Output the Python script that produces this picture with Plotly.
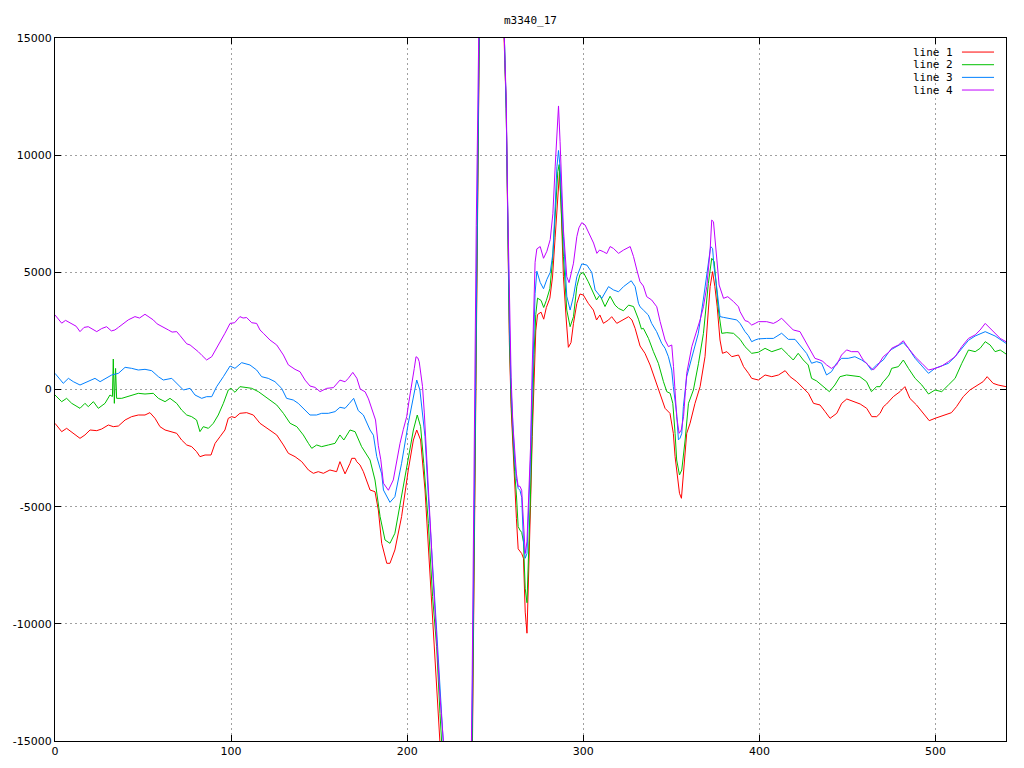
import plotly.graph_objects as go

TITLE = "m3340_17"
SERIES_NAMES = ["line 1", "line 2", "line 3", "line 4"]
SERIES_COLORS = ["#ff0000", "#00c000", "#0080ff", "#c000ff"]

X_RANGE = [0, 540]
Y_RANGE = [-15000, 15000]
X_TICKS = [0, 100, 200, 300, 400, 500]
Y_TICKS = [-15000, -10000, -5000, 0, 5000, 10000, 15000]
Y_TICK_TEXT = ["-15000", "-10000", "-5000", "0", "5000", "10000", "15000"]

# (x, value) readings for each line
LINE1 = [(0,-1444),(3.8,-1799),(6.6,-1657),(10.4,-1870),(14.2,-2084),(17,-1941),(19.9,-1728),(23.7,-1757),
 (26.5,-1686),(30.3,-1515),(33.1,-1586),(36,-1558),(39.8,-1301),(43.5,-1159),(47.3,-1088),(51.1,-1088),
 (53.9,-988),(56.8,-1230),(59.6,-1586),(62.5,-1728),(66.3,-1799),(69.1,-1870),(71.9,-2155),(74.8,-2368),
 (77.6,-2439),(80.4,-2653),(82.3,-2866),(85.2,-2795),(88.6,-2795),(90.9,-2297),(93.7,-2013),(96.5,-1728),
 (98.4,-1230),(100.3,-1159),(102.2,-1200),(105,-1017),(108.8,-988),(112.6,-1088),(116.4,-1443),(120.2,-1657),
 (123,-1799),(125.9,-1941),(129.7,-2368),(132.5,-2723),(136.3,-2866),(140.1,-3079),(143.9,-3435),(146.7,-3577),
 (149.5,-3506),(152.4,-3577),(156.1,-3435),(159.9,-3506),(161.8,-3079),(164.7,-3600),(167.5,-3150),(168.5,-2937),
 (170.4,-2937),(171.3,-3079),(173.2,-3221),(175.1,-3506),(178.9,-4290),(181.7,-4361),(183.6,-5142),(185.5,-6564),
 (188.4,-7417),(190.2,-7417),(193,-6849),(196.8,-5426),(200.6,-3435),(203.5,-2155),(205.4,-1728),(207.6,-2155),
 (210.1,-4290),(212,-6706),(213.9,-9266),(216.7,-12396),(218.6,-14957),(220,-17000),(228,-27000),(234,-23000),
 (236,-20000),(237,-15500),(238,-8000),(239,1000),(240,9000),(241,15500),(248,26000),(255,15000),(256.2,12000),
 (257,7000),(258,2000),(259,-800),(260,-2500),(261,-4000),(262,-5500),(263,-6800),(264,-6900),(265,-7000),
 (266,-7200),(267,-9500),(268,-10400),(269,-8000),(270,-5000),(271,-2000),(272,500),(273,2500),(274,3200),
 (276,3300),(277.5,3000),(279,3500),(281,3900),(282.5,4800),(284,6500),(285.5,8500),(286.5,9300),(287.3,8000),
 (288.7,4813),(290.3,2966),(291.5,1800),(293,2000),(294.4,2823),(296.3,3674),(298.1,4075),(300,4032),
 (302.8,3678),(305.7,3391),(307.5,2966),(309.4,3180),(311.4,2823),(314.3,2966),(316.1,3107),(319,2823),
 (322.8,2966),(325.7,3107),(327.6,2966),(329.4,2608),(332.2,1857),(335,1544),(337.9,1046),(340.7,405),
 (343.5,-163),(346.4,-803),(349.2,-1017),(351.1,-1870),(352.1,-2866),(353.4,-3719),(354.6,-4430),(355.7,-4643),
 (356.8,-3719),(358.7,-1870),(360.6,-1443),(363.4,-590),(366.3,121),(369.1,1401),(371,3391),(372,4388),
 (373.4,5029),(374.7,4388),(376,3533),(377.6,2112),(379,1544),(381.5,1615),(384.3,1401),(388.1,1472),
 (389,1330),(391,975),(393.8,690),(395.6,476),(399.4,405),(403.2,619),(407,547),(410.8,619),(414.6,803),
 (417.4,547),(421.2,334),(425,50),(427.8,-163),(430.7,-590),(434.4,-661),(437.3,-945),(440.1,-1230),
 (443.9,-1017),(446.7,-590),(449.6,-405),(453.4,-519),(457.2,-619),(460.9,-803),(463.8,-1159),(466.6,-1159),
 (468.5,-1017),(470.4,-732),(472.2,-619),(476,-306),(479.8,-92),(482.6,121),(485.4,-377),(489.2,-661),
 (493,-1017),(496.4,-1330),(499.7,-1230),(504.3,-1117),(509,-990),(511.9,-732),(515.7,-306),(519.5,-21),
 (524.2,192),(527,334),(529.3,547),(532.7,263),(535.5,192),(540,121)]

LINE2 = [(0,-235),(3.8,-519),(6.6,-377),(9.5,-590),(14.2,-803),(17,-590),(18.9,-732),(21.8,-519),(24.6,-803),
 (28.4,-590),(31.2,-235),(32.6,-300),(33.1,1300),(33.7,-590),(34.4,900),(35,-377),(37.9,-377),(40.7,-306),
 (43.5,-235),(47.3,-163),(51.1,-192),(55.8,-163),(58.7,-377),(62.5,-519),(65.3,-377),(69.1,-590),(71.9,-875),
 (74.8,-1088),(77.6,-1159),(80.4,-1301),(82.3,-1798),(84.2,-1586),(87.1,-1657),(89.9,-1443),(92.7,-1088),
 (95.6,-590),(98.4,-21),(99.9,50),(102.2,-120),(105,121),(107.9,92),(111.7,50),(115.5,-92),(118.3,-235),
 (122.1,-448),(125.9,-661),(129.7,-1017),(133.5,-1443),(137.3,-1586),(141,-1941),(143.9,-2297),(145.8,-2510),
 (148.6,-2368),(151.4,-2439),(155.2,-2368),(159,-2297),(161.8,-1941),(164,-2155),(167.5,-1728),(170.4,-1800),
 (174.1,-2440),(178.9,-3009),(181.7,-3862),(184.6,-5426),(187.4,-6422),(190.2,-6564),(193,-6137),(196.8,-4575),
 (200.6,-2866),(203.5,-1728),(205.7,-1088),(207.6,-1586),(209.4,-3150),(212,-5711),(214.4,-8840),(216.7,-10974),
 (218.6,-13818),(220,-16000),(228,-26000),(234,-22000),(236,-19500),(237,-14500),(238,-7000),(239,1500),
 (240,9500),(241,16000),(248,26500),(255,15500),(256.2,12000),(257,7000),(258,2500),(259,-500),(260,-2200),
 (261,-3500),(262,-4500),(263,-5850),(264,-6000),(265,-6100),(266,-6500),(267,-8500),(268,-9100),(269,-7000),
 (270,-4500),(271,-1500),(272,1500),(273,3200),(274,3900),(276,3800),(277.5,3500),(279,3800),(281,4300),
 (282.5,5500),(284,7500),(285.5,9300),(286.3,9600),(286.8,8800),(288.7,5670),(290.6,3390),(292.5,2680),
 (294.4,3110),(296.3,4390),(298.1,4910),(300,5000),(302.8,4600),(305.7,4100),(307.5,3820),(309.4,4030),
 (312.3,3540),(315.2,3980),(318,3600),(320,3460),(322.8,3360),(325.7,3600),(328.5,3540),(331.3,3000),
 (333,2580),(334.1,2610),(337,2180),(339.8,1615),(342.6,1117),(345.5,334),(347.4,-92),(349.3,-163),
 (350.8,-590),(352.1,-1870),(353,-3008),(354.6,-3648),(355.9,-3435),(357.8,-2155),(359.7,-590),(362.5,-21),
 (365.4,1117),(368.2,2397),(371,4530),(372.9,5598),(374.3,5455),(375.4,4530),(376.7,3391),(378.6,2397),
 (381.5,2426),(385.3,2397),(389,2140),(391.8,1828),(395.6,1544),(399.4,1590),(403.2,1757),(407,1615),
 (412.6,1757),(416.4,1472),(419.2,1259),(422,1544),(424.9,1259),(427.7,1046),(429.6,476),(432.5,363),
 (436.2,121),(439.7,-92),(442.8,192),(445.7,547),(449.5,619),(453.2,576),(457,547),(460.8,334),(463.6,-92),
 (466.5,121),(468.5,121),(470.3,334),(471.3,405),(473.6,619),(475.1,903),(478.9,975),(481.7,1259),
 (484.6,903),(488.4,476),(492.2,192),(496,-192),(499.7,-21),(503.5,-92),(507.3,192),(511.1,476),(514.9,1117),
 (518.7,1686),(522.5,1615),(525.3,1757),(528.2,2041),(531,1899),(533.8,1615),(536.7,1686),(540,1515)]

LINE3 = [(0,690),(2.8,405),(4.7,263),(7.6,476),(10.4,334),(14.2,192),(18,334),(22.7,476),(25.6,334),(29.3,476),
 (32.2,619),(36,690),(39.8,946),(43.5,903),(47.3,832),(51.1,861),(54.9,803),(58.7,547),(61.5,405),(66.3,476),
 (69.1,263),(72.9,-21),(76.7,50),(79.5,-235),(83.3,-377),(86.1,-306),(89,-306),(91.8,121),(95.6,547),
 (99.4,1003),(102.2,903),(106,1145),(110.7,1046),(114.5,832),(117.3,547),(121.1,476),(124.9,334),(128.7,50),
 (131.5,-377),(135.3,-448),(138.1,-590),(141,-803),(144.8,-1088),(148.5,-1088),(151.4,-1017),(155.2,-1017),
 (159,-945),(161.8,-760),(164.7,-803),(167.2,-590),(169.6,-377),(172.2,-900),(175.1,-1088),(178.9,-1728),
 (180.8,-1950),(182.7,-2866),(185.5,-3600),(186.5,-4290),(190.2,-4815),(193,-4575),(196.8,-3150),
 (200.6,-1444),(203.5,-306),(205.4,405),(207.2,-21),(210.1,-2013),(212,-4575),(214.8,-7702),(216.7,-10262),
 (219.5,-13818),(221,-16000),(228,-25000),(234,-21000),(236,-19000),(237,-13000),(238,-5000),(239,3000),
 (240,10500),(241,16500),(248,27000),(255,15500),(256.2,12000),(257,7500),(258,3000),(259,0),(260,-1800),
 (261,-3000),(262,-3800),(263,-4220),(264,-4300),(265,-4600),(266,-6500),(267,-7200),(268,-7000),(269,-5000),
 (270,-3000),(271,0),(272,3000),(272.6,4090),(273.6,5050),(275.5,4570),(277.4,4300),(279.3,4700),(281.2,5000),
 (282.7,5800),(284,7800),(285,9500),(285.9,10200),(286.8,9500),(288.7,6520),(290.6,3980),(292.5,3390),
 (294.4,3980),(296.3,4810),(299.1,5360),(302,5310),(304.8,5000),(306.7,4250),(310.5,3890),(314.3,4390),
 (317.1,4250),(320,4170),(322.8,4390),(327.2,4640),(329.4,4390),(331.3,3680),(332.2,3530),(334.1,3390),
 (336.9,3180),(338.8,2820),(341.6,2470),(344.5,1970),(346.4,1760),(348.3,1400),(350.2,830),(351.1,120),
 (353,-1020),(354,-2150),(354.9,-2080),(355.9,-1870),(356.8,-730),(358.7,550),(360.6,1120),(363.4,1830),
 (365.3,2400),(368.1,3820),(370,4810),(372.3,6100),(373.4,6020),(374.2,5240),(375.7,4390),(377.6,3110),
 (379.5,3080),(383.3,3040),(387.1,2970),(389,2820),(391.8,2470),(393.7,2300),(395.6,2040),(397.5,2110),
 (399.4,2160),(404.1,2180),(407.9,2180),(412.6,2400),(416.4,2140),(420.2,2140),(423.9,1830),(426.8,1540),
 (429.6,1120),(432.5,1190),(435.3,1120),(438.1,620),(440.9,760),(443.8,1120),(446.6,1330),(450.4,1330),
 (454.2,1400),(458,1260),(460.8,1120),(463.6,830),(466.5,1046),(470.3,1260),(473.6,1615),(475.1,1714),
 (481.7,2000),(484.6,1760),(488.4,1330),(492.2,1000),(496,690),(499.7,903),(503.5,1000),(507.3,1117),
 (511.1,1400),(514.9,1757),(518.7,2100),(522.5,2283),(528.2,2468),(533.8,2283),(540,1970)]

LINE4 = [(0,3180),(1.9,3000),(3.8,2830),(6,2950),(9.5,2820),(12,2700),(14.2,2470),(16.5,2650),(18.9,2680),
 (21,2600),(23.7,2470),(26.5,2600),(29.3,2680),(32,2500),(34,2540),(36,2650),(37.9,2750),(41.6,2970),
 (45.4,3110),(48,3050),(51.1,3210),(53.5,3100),(55.8,2970),(58,2800),(60.6,2680),(62.5,2600),(64.4,2540),
 (66.5,2450),(69.1,2470),(71,2300),(72.9,2110),(74.8,1950),(76.7,1900),(78.5,1800),(81.4,1610),(83.5,1450),
 (86.1,1260),(89,1400),(90.5,1600),(92.7,1830),(94.5,2100),(96.5,2400),(99.4,2820),(102,2850),(105,3110),
 (106.8,3050),(108.8,3070),(111.7,2850),(114.5,2820),(116.4,2540),(118.3,2400),(122.1,2110),(125.9,1900),
 (127.5,1700),(129.7,1470),(132.5,1050),(136.3,860),(139.1,760),(142,400),(144.8,150),(147.6,90),(150.5,-90),
 (154.3,50),(158.1,80),(161.8,400),(164.7,330),(166.6,480),(169.1,730),(171.4,480),(173.3,20),(176.1,-100),
 (178,-400),(180.8,-1000),(182,-1300),(183.6,-2400),(185,-3000),(186.5,-4000),(189.3,-4300),(192.1,-3860),
 (194,-3000),(195.9,-2300),(197.8,-1700),(199.7,-1160),(201,-500),(202.5,120),(204,900),(205,1400),(206,1350),
 (206.8,1190),(207.8,600),(208.7,120),(209.7,-1000),(210.6,-2150),(211.5,-3500),(212.5,-4860),(213.5,-6300),
 (214.4,-7700),(216.3,-10260),(218.6,-13100),(220.5,-14960),(222,-17500),(228,-26000),(234,-22000),
 (236,-18000),(236.9,-12160),(237.4,-7570),(238,-3000),(238.7,3000),(239.2,7000),(240,11500),(240.5,14500),
 (241,17500),(248,28000),(254.5,17000),(255.5,14000),(256.2,12500),(257,8000),(258,3500),(259,500),
 (260,-1500),(261,-2500),(262,-3600),(263,-4130),(264,-4130),(265,-4300),(266,-5500),(267,-7000),(268,-6500),
 (269,-4500),(270,-2500),(271,1000),(272,4000),(272.6,5430),(273.6,6000),(275.5,6100),(277.4,5600),
 (279.3,5900),(281.2,6400),(282.7,7500),(284,9500),(285,11200),(285.9,12100),(286.8,10570),(287.8,8800),
 (288.7,6810),(290.6,4810),(291.9,4560),(294.4,5390),(296.3,6520),(297.5,6900),(299.1,7120),(301,7020),
 (303.9,6520),(305.8,6250),(307.7,5810),(309.2,5950),(311.4,5880),(313.3,5800),(315.2,6100),(317.1,6020),
 (320,5810),(322.8,5950),(326.6,6100),(328.5,5670),(330.4,5100),(332.2,4600),(334.1,4416),(336,3960),
 (338.8,3820),(341.7,3530),(343.6,2900),(346.4,2110),(348.3,1830),(350.2,1900),(351.2,975),(352.1,-160),
 (353,-1160),(354.4,-1870),(355.6,-1730),(356.9,-1160),(358.7,690),(361.6,1830),(363.5,2260),(366.3,2970),
 (368.2,3530),(370.1,4390),(372,5950),(372.9,7230),(373.9,7160),(374.8,6380),(375.8,5380),(377.1,4460),
 (379.6,3890),(382,3960),(385.3,3750),(388.1,3530),(389,3320),(391.8,2940),(393.5,2900),(395.6,2750),
 (397.6,2820),(399.4,2895),(404.1,2895),(407.9,2820),(410,2900),(412.6,3040),(416.4,2750),(419.2,2540),
 (423,2470),(425.8,2110),(428.7,1690),(431.5,1330),(434.3,1260),(436,1200),(438.1,1050),(440.9,900),
 (443.8,1050),(446.6,1470),(449.5,1690),(452.3,1615),(456.1,1615),(458.9,1260),(461.7,1050),(464.6,830),
 (467.4,1050),(470.3,1400),(473.6,1600),(475.1,1760),(478.9,1900),(481.7,2080),(484.6,1760),(488.4,1400),
 (492.2,1120),(496,830),(499.7,900),(503.5,1000),(507.3,1190),(511.1,1400),(514.9,1830),(518.7,2180),
 (522.5,2330),(525.3,2540),(528.2,2820),(531,2610),(533.8,2400),(536.7,2180),(540,2040)]

SERIES = [LINE1, LINE2, LINE3, LINE4]

FONT = "DejaVu Sans"
MONO = "DejaVu Sans Mono"

fig = go.Figure()
for name, color, data in zip(SERIES_NAMES, SERIES_COLORS, SERIES):
    xs = [p[0] for p in data]
    ys = [p[1] for p in data]
    fig.add_trace(go.Scatter(x=xs, y=ys, mode="lines", name=name,
                             line=dict(color=color, width=1), showlegend=False))

axis_common = dict(showline=True, linecolor="black", linewidth=1, mirror="ticks",
                   ticks="inside", ticklen=6, tickcolor="black", tickwidth=1,
                   showgrid=True, gridcolor="#a0a0a0", gridwidth=1, griddash="2px,3px",
                   zeroline=False, automargin=False,
                   tickfont=dict(family=FONT, size=11, color="black"))

fig.update_xaxes(range=X_RANGE, tickvals=X_TICKS, ticktext=[str(v) for v in X_TICKS], **axis_common)
fig.update_yaxes(range=Y_RANGE, tickvals=Y_TICKS, ticktext=Y_TICK_TEXT, **axis_common)

# gnuplot-style key (text, then sample line), top right inside plot
row_y = [0.980, 0.962, 0.944, 0.926]
annotations = []
shapes = []
for name, color, ry in zip(SERIES_NAMES, SERIES_COLORS, row_y):
    annotations.append(dict(x=0.9464, y=ry, xref="paper", yref="paper", text=name,
                            showarrow=False, xanchor="right", yanchor="middle",
                            font=dict(family=MONO, size=11, color="black")))
    shapes.append(dict(type="line", xref="paper", yref="paper", x0=0.9537, x1=0.9874,
                       y0=ry, y1=ry, line=dict(color=color, width=1)))

annotations.append(dict(x=0.5, y=1.0256, xref="paper", yref="paper", text=TITLE,
                        showarrow=False, xanchor="center", yanchor="middle",
                        font=dict(family=MONO, size=11, color="black")))

# the page body adds an 8 px offset, so margins are reduced accordingly
fig.update_layout(
    width=1024, height=768, autosize=False,
    margin=dict(l=47, r=26, t=30, b=35),
    paper_bgcolor="white", plot_bgcolor="white",
    annotations=annotations, shapes=shapes,
    showlegend=False,
)

fig.write_html("out.html")
